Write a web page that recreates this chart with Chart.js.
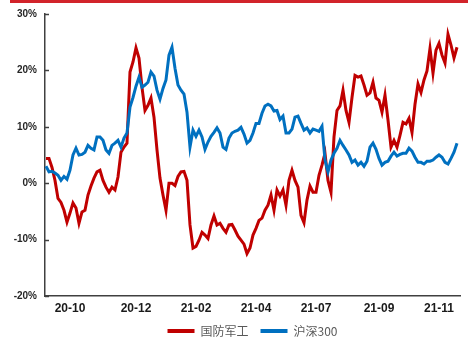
<!DOCTYPE html>
<html>
<head>
<meta charset="utf-8">
<script src="https://cdn.jsdelivr.net/npm/chart.js@4.4.1/dist/chart.umd.min.js"></script>
<style>
  html, body { margin: 0; padding: 0; background: #fff; }
  #wrap { width: 468px; height: 338px; }
</style>
</head>
<body>
<div id="wrap"><canvas id="chart" width="468" height="338"></canvas></div>
<script>
// ---- data (cumulative return, %) ----
const seriesNames = ['国防军工', '沪深300'];

const defenseValues = [
    4.4, 4.4, 2.8, 0.5, -2.7, -3.4, -4.8, -6.9, -5.3, -3.5,
    -4.4, -7.1, -5.1, -4.8, -2.1, -0.5, 0.9, 2.0, 2.3, 0.5,
    -0.7, -1.6, -0.7, -1.2, 1.1, 5.5, 6.4, 7.1, 19.7, 21.5,
    24.0, 22.2, 17.0, 12.9, 13.8, 15.1, 11.7, 5.9, 0.9, -2.1,
    -4.8, 0.0, 0.0, -0.4, 1.2, 2.0, 2.1, 0.5, -7.4, -11.5,
    -11.2, -10.1, -8.7, -9.2, -9.8, -7.4, -5.8, -7.4, -7.1, -8.0,
    -8.7, -7.4, -7.3, -8.3, -9.4, -10.1, -10.8, -12.5, -11.5, -9.2,
    -8.0, -6.6, -6.2, -4.8, -3.9, -2.1, -4.8, -1.2, -2.3, -1.2,
    -3.9, 0.5, 2.3, 0.5, -0.7, -5.7, -7.0, -3.0, -0.5, -1.6,
    -1.6, 1.4, 3.2, 5.3, 0.5, -1.6, 8.2, 12.9, 13.7, 16.5,
    12.9, 10.8, 15.2, 19.1, 18.8, 19.0, 17.4, 15.6, 16.0, 17.9,
    15.1, 14.7, 12.6, 15.6, 11.2, 6.4, 7.6, 6.4, 8.5, 10.8,
    10.5, 11.5, 9.0, 14.0, 17.6, 16.1, 18.3, 19.9, 23.9, 19.5,
    23.6, 24.8, 22.7, 21.3, 26.4, 24.5, 22.2, 24.1
];

const hs300Values = [
    3.0, 2.0, 2.1, 1.8, 1.4, 0.5, 1.2, 0.7, 2.3, 5.0,
    6.2, 5.0, 5.1, 5.5, 6.7, 6.2, 5.9, 8.2, 8.2, 7.6,
    5.9, 5.3, 6.7, 7.1, 7.6, 6.4, 8.0, 8.9, 13.5, 15.2,
    17.2, 18.8, 17.0, 17.4, 17.9, 19.7, 19.0, 16.5, 14.9, 16.8,
    18.3, 22.7, 24.1, 20.4, 17.4, 16.5, 15.8, 12.6, 6.4, 9.4,
    8.3, 9.4, 8.2, 6.0, 7.3, 8.3, 9.0, 9.8, 8.9, 6.4,
    6.0, 8.0, 8.9, 9.2, 9.4, 9.9, 8.7, 7.1, 7.6, 8.9,
    10.6, 10.6, 12.4, 13.7, 14.0, 13.7, 12.8, 12.9, 11.3, 11.9,
    8.9, 8.9, 9.6, 11.7, 11.9, 10.6, 9.4, 9.8, 8.9, 9.6,
    9.4, 9.2, 10.1, 4.1, 2.0, 4.1, 5.3, 6.2, 7.6, 6.7,
    5.9, 5.0, 3.7, 4.1, 3.2, 3.7, 3.0, 3.9, 6.4, 7.1,
    6.0, 4.4, 3.2, 3.7, 3.9, 4.8, 5.5, 4.8, 5.1, 5.3,
    5.3, 6.2, 5.7, 4.6, 3.7, 3.7, 3.4, 3.9, 3.9, 4.1,
    4.6, 5.0, 4.6, 3.7, 3.4, 4.4, 5.5, 7.1
];

// x-axis month labels and the point index each one sits on
const xTickLabels = ['20-10', '20-12', '21-02', '21-04', '21-07', '21-09', '21-11'];
const xTickIndex = [8, 30, 50, 70, 90, 111, 131];

const yTicks = [-20, -10, 0, 10, 20, 30];

const pointIndex = defenseValues.map((_, i) => i);

// thin red band across the top of the figure
const topBand = {
    id: 'topBand',
    beforeDraw(chart) {
        const ctx = chart.ctx;
        ctx.save();
        ctx.fillStyle = '#d2232a';
        ctx.fillRect(10, 0, chart.width - 10, 3);
        ctx.restore();
    }
};

// short tick marks pointing into the plot on the y axis
const innerTicks = {
    id: 'innerTicks',
    afterDraw(chart) {
        const y = chart.scales.y;
        const ctx = chart.ctx;
        ctx.save();
        ctx.strokeStyle = '#404040';
        ctx.lineWidth = 1.5;
        y.ticks.forEach(t => {
            const py = Math.round(y.getPixelForValue(t.value)) + 0.5;
            ctx.beginPath();
            ctx.moveTo(y.right, py);
            ctx.lineTo(y.right + 4, py);
            ctx.stroke();
        });
        ctx.restore();
    }
};

const ctx = document.getElementById('chart').getContext('2d');

new Chart(ctx, {
    type: 'line',
    data: {
        labels: pointIndex,
        datasets: [
            {
                label: seriesNames[0],
                data: defenseValues,
                borderColor: '#c00000',
                backgroundColor: '#c00000',
                borderWidth: 3,
                pointRadius: 0,
                tension: 0,
                order: 1
            },
            {
                label: seriesNames[1],
                data: hs300Values,
                borderColor: '#0070c0',
                backgroundColor: '#0070c0',
                borderWidth: 3,
                pointRadius: 0,
                tension: 0,
                order: 0
            }
        ]
    },
    options: {
        responsive: false,
        animation: false,
        layout: {
            padding: { top: 14, right: 8, bottom: 0, left: 0 }
        },
        plugins: {
            tooltip: { enabled: false },
            legend: {
                position: 'bottom',
                fullSize: false,
                maxHeight: 25,
                labels: {
                    boxWidth: 27,
                    boxHeight: 4,
                    padding: 12,
                    color: '#595959',
                    font: { family: '"Noto Sans CJK SC", sans-serif', size: 12 },
                    sort: (a, b) => a.datasetIndex - b.datasetIndex,
                    generateLabels: function(chart){
                        const items = Chart.defaults.plugins.legend.labels.generateLabels(chart);
                        items.forEach(it => { it.lineWidth = 0; });
                        return items;
                    }
                }
            }
        },
        scales: {
            x: {
                type: 'linear',
                min: -0.33,
                max: 138,
                grid: { display: false, drawTicks: false },
                border: { display: true, color: '#404040', width: 1.5 },
                afterBuildTicks: function(scale){
                    scale.ticks = xTickIndex.map(v => ({ value: v }));
                },
                afterFit: function(scale){
                    scale.height = 17;
                },
                ticks: {
                    autoSkip: false,
                    maxRotation: 0,
                    padding: 5,
                    color: '#1a1a1a',
                    font: { family: '"Liberation Sans", Arial, sans-serif', size: 12, weight: 'bold' },
                    callback: function(value){
                        const k = xTickIndex.indexOf(value);
                        return k >= 0 ? xTickLabels[k] : '';
                    }
                }
            },
            y: {
                min: -20,
                max: 30,
                grid: { display: false, drawTicks: false },
                border: { display: true, color: '#404040', width: 1.5 },
                afterBuildTicks: function(scale){
                    scale.ticks = yTicks.map(v => ({ value: v }));
                },
                afterFit: function(scale){
                    scale.width = 45;
                },
                ticks: {
                    padding: 8,
                    color: '#262626',
                    font: { family: '"Liberation Sans", Arial, sans-serif', size: 10, weight: 'bold' },
                    callback: function(value){
                        return value + '%';
                    }
                }
            }
        }
    },
    plugins: [topBand, innerTicks]
});
</script>
</body>
</html>
